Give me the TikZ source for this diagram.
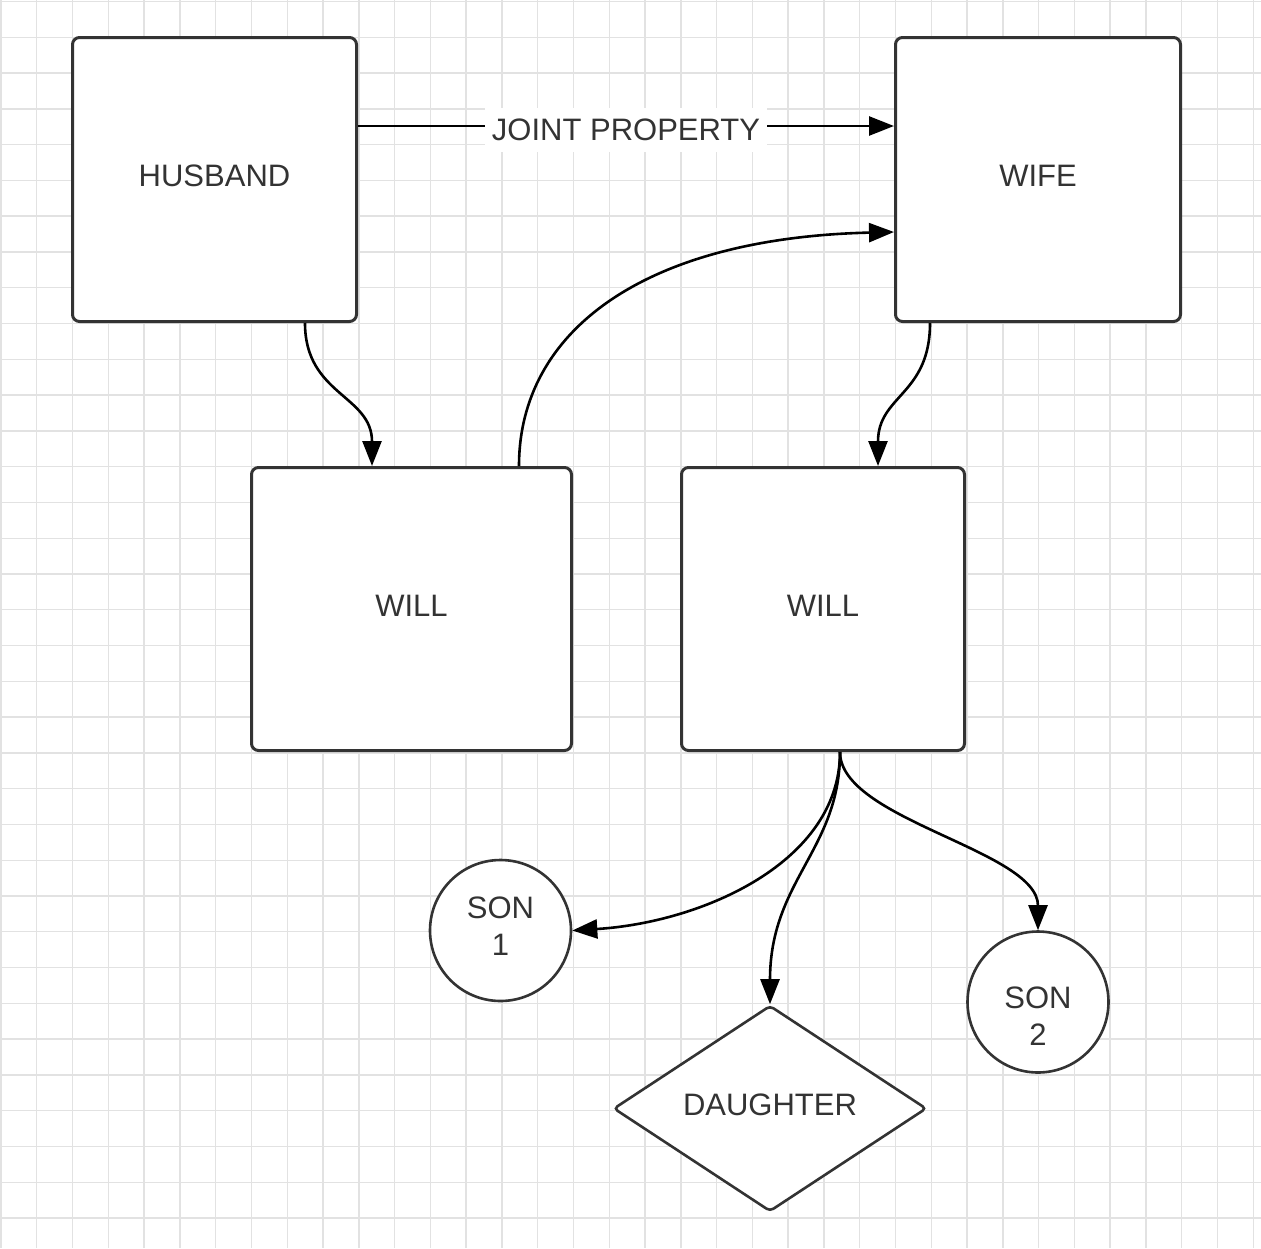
\documentclass[tikz,border=0pt]{standalone}
\usepackage{fontspec}
\setmainfont{Liberation Sans}
\usetikzlibrary{arrows.meta,shapes.geometric}
\definecolor{ink}{HTML}{333333}
\definecolor{gridgray}{HTML}{E2E2E2}
\tikzset{
  gridline/.style={draw=gridgray, line width=1.4pt},
  box/.style={draw=ink, line width=3pt, rounded corners=7pt, fill=white,
    text=ink, text depth=7pt, font=\fontsize{31}{37}\selectfont},
  person/.style={draw=ink, line width=2.6pt, circle, fill=white,
    minimum size=141pt, inner sep=0pt},
  persontext/.style={text=ink, inner sep=0pt, align=center,
    font=\fontsize{31}{37}\selectfont},
  heir/.style={draw=ink, line width=2.6pt, diamond, shape aspect=1.5, fill=white,
    text=ink, text depth=7pt, rounded corners=4pt, minimum width=313pt,
    minimum height=206pt, inner sep=0pt, font=\fontsize{31}{37}\selectfont},
  conn/.style={draw=black, line width=2.6pt,
    -{Triangle[length=25pt,width=19pt]}},
  lbl/.style={fill=white, text=ink, inner xsep=7pt, inner ysep=11pt, yshift=-4pt,
    font=\fontsize{31}{37}\selectfont}
}
\begin{document}
\begin{tikzpicture}[x=1pt,y=-1pt]
% page and background grid
\fill[white] (0,0) rectangle (1261,1248);
\useasboundingbox (0,0) rectangle (1261,1248);
\foreach \i in {0,...,35} \draw[gridline] ({1+35.78*\i},0) -- ({1+35.78*\i},1248);
\foreach \i in {0,...,34} \draw[gridline] (0,{1.5+35.78*\i}) -- (1261,{1.5+35.78*\i});

% parents
\node[box, minimum width=284pt, minimum height=284pt] (husband) at (214.5,179.5) {HUSBAND};
\node[box, minimum width=285pt, minimum height=284pt] (wife) at (1038,179.5) {WIFE};

% wills
\node[box, minimum width=320pt, minimum height=283pt] (willh) at (411.5,609) {WILL};
\node[box, minimum width=283pt, minimum height=283pt] (willw) at (823,609) {WILL};

% heirs
\node[person] (son1) at (500.5,930.5) {};
\node[persontext] (son1t) at ([yshift=4pt]son1.center) {SON\\1};
\node[person] (son2) at (1038,1002) {};
\node[persontext] (son2t) at ([yshift=-14.5pt]son2.center) {SON\\2};
\node[heir] (daughter) at (770,1108.5) {DAUGHTER};

% connectors
\draw[conn] ([yshift=53.5pt]husband.east) -- node[lbl] {JOINT PROPERTY} ([yshift=53.5pt]wife.west);
\draw[conn] ([xshift=90.5pt]husband.south) .. controls +(0,72) and +(0,-71) .. ([xshift=-39.5pt]willh.north);
\draw[conn] ([xshift=-108pt]wife.south) .. controls +(0,72) and +(0,-71) .. ([xshift=55pt]willw.north);
\draw[conn] ([xshift=107.5pt]willh.north) .. controls +(0,-135) and +(-250,6) .. ([yshift=-52.5pt]wife.west);
\draw[conn] ([xshift=17pt]willw.south) .. controls +(0,110) and +(130,-8) .. (son1.east);
\draw[conn] ([xshift=17pt]willw.south) .. controls +(0,98) and +(0,-124) .. (daughter.north);
\draw[conn] ([xshift=17pt]willw.south) .. controls +(0,68) and +(0,-80) .. (son2.north);
\end{tikzpicture}
\end{document}
